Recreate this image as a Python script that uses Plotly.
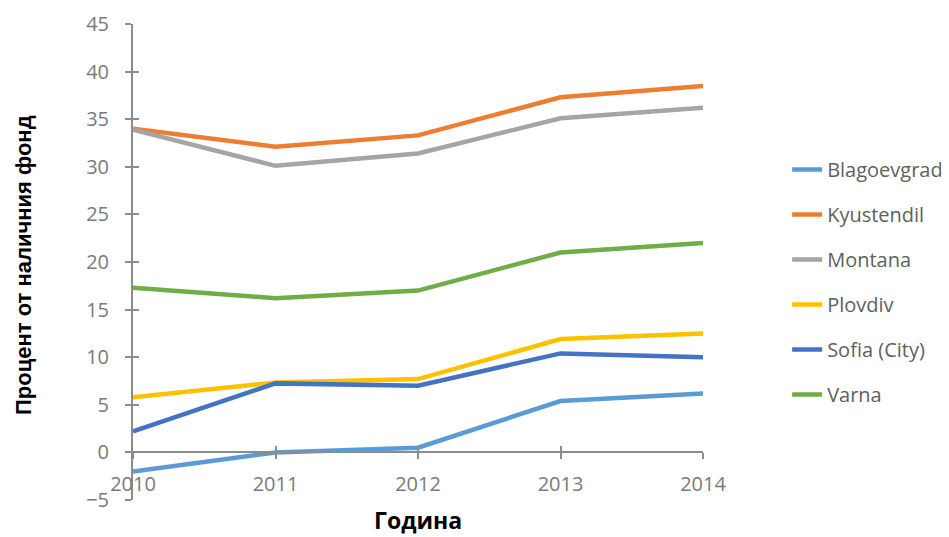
import plotly.graph_objects as go

years = [2010, 2011, 2012, 2013, 2014]
blagoevgrad = [-2.0, 0.0, 0.5, 5.4, 6.2]
kyustendil = [34.0, 32.1, 33.3, 37.3, 38.5]
montana = [33.9, 30.1, 31.4, 35.1, 36.2]
plovdiv = [5.8, 7.35, 7.7, 11.9, 12.5]
sofia = [2.2, 7.25, 7.0, 10.4, 10.0]
varna = [17.3, 16.2, 17.0, 21.0, 22.0]

names = ["Blagoevgrad", "Kyustendil", "Montana", "Plovdiv", "Sofia (City)", "Varna"]
series = [blagoevgrad, kyustendil, montana, plovdiv, sofia, varna]
colors = ["#5B9BD5", "#ED7D31", "#A5A5A5", "#FFC000", "#4472C4", "#70AD47"]

y_ticks = [-5, 0, 5, 10, 15, 20, 25, 30, 35, 40, 45]

fig = go.Figure()
for n, s, c in zip(names, series, colors):
    fig.add_trace(go.Scatter(x=years, y=s, name=n, mode="lines",
                             line=dict(color=c, width=4.5),
                             legendgroup=n, cliponaxis=False))

axis_col = "#8C8C8C"
tick_font = dict(family="Open Sans, Lato, sans-serif", size=20, color="#7A7A7A")

fig.update_layout(
    width=941, height=529,
    margin=dict(l=125, r=246, t=16, b=37, autoexpand=False),
    plot_bgcolor="white", paper_bgcolor="white",
    showlegend=True,
    legend=dict(xref="container", yref="container", x=0.828, xanchor="left",
                y=0.482, yanchor="middle",
                font=dict(family="Open Sans, Lato, sans-serif", size=20, color="#606060"),
                tracegroupgap=16, itemwidth=30),
    xaxis=dict(range=[2010, 2014], tickvals=years, ticktext=[str(y) for y in years],
               showgrid=False, zeroline=False, showline=True, linecolor=axis_col, linewidth=2,
               anchor="free", position=0.1, ticks="outside", ticklen=6, tickwidth=2,
               tickcolor=axis_col, tickfont=tick_font, ticklabelstandoff=8, automargin=False),
    xaxis2=dict(range=[2010, 2014], tickvals=years, overlaying="x", anchor="free", position=0.1,
                showgrid=False, zeroline=False, showline=False, ticks="inside", ticklen=6,
                tickwidth=2, tickcolor=axis_col, showticklabels=False),
    yaxis=dict(range=[-5, 45], tickvals=y_ticks, showgrid=False, zeroline=False,
               showline=True, linecolor=axis_col, linewidth=2, ticks="outside", ticklen=6,
               tickwidth=2, tickcolor=axis_col, tickfont=tick_font, ticklabelstandoff=12,
               automargin=False),
    yaxis2=dict(range=[-5, 45], tickvals=y_ticks, overlaying="y", anchor="x", side="left",
                showgrid=False, zeroline=False, showline=False, ticks="inside", ticklen=6,
                tickwidth=2, tickcolor=axis_col, showticklabels=False),
    annotations=[
        dict(text="<b>Процент от наличния фонд</b>", xref="paper", yref="paper",
             x=-0.191, y=0.494, xanchor="center", yanchor="middle", textangle=-90,
             showarrow=False, font=dict(family="Liberation Sans, Arial, sans-serif", size=22, color="black")),
        dict(text="<b>Година</b>", xref="paper", yref="paper",
             x=0.5, y=-0.042, xanchor="center", yanchor="middle", borderpad=0,
             showarrow=False, font=dict(family="Open Sans, sans-serif", size=23, color="black")),
    ],
)

# dummy trace to activate secondary axes
fig.add_trace(go.Scatter(x=[2010], y=[None], xaxis="x2", yaxis="y2", showlegend=False, hoverinfo="skip"))

fig.write_html("out.html")
